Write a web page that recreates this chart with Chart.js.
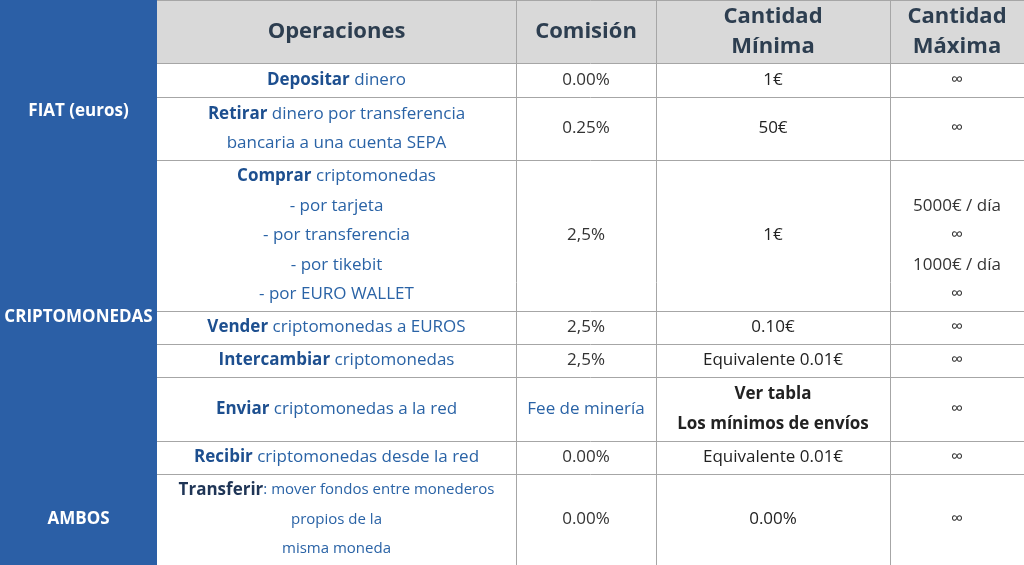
<!DOCTYPE html>
<html><head><meta charset="utf-8">
<script src="https://cdn.jsdelivr.net/npm/chart.js@4"></script>
<style>html,body{margin:0;padding:0;background:#fff}#wrap{width:1024px;height:565px}</style>
</head><body><div id="wrap"><canvas id="c"></canvas></div>
<script>
// table contents: each cell is a list of lines, each line a list of [text, bold, size]
const headers = ['Operaciones', 'Comisión', ['Cantidad', 'Mínima'], ['Cantidad', 'Máxima']];
const groups = [['FIAT (euros)', 0, 2], ['CRIPTOMONEDAS', 2, 7], ['AMBOS', 7, 8]];
const operaciones = [
  [[['Depositar', 1], [' dinero', 0]]],
  [[['Retirar', 1], [' dinero por transferencia', 0]], [['bancaria a una cuenta SEPA', 0]]],
  [[['Comprar', 1], [' criptomonedas', 0]], [['- por tarjeta', 0]], [['- por transferencia', 0]], [['- por tikebit', 0]], [['- por EURO WALLET', 0]]],
  [[['Vender', 1], [' criptomonedas a EUROS', 0]]],
  [[['Intercambiar', 1], [' criptomonedas', 0]]],
  [[['Enviar', 1], [' criptomonedas a la red', 0]]],
  [[['Recibir', 1], [' criptomonedas desde la red', 0]]],
  [[['Transferir', 1], [': mover fondos entre monederos', 0, 15]], [['propios de la', 0, 15]], [['misma moneda', 0, 15]]]
];
const comisiones = ['0.00%', '0.25%', '2,5%', '2,5%', '2,5%', 'Fee de minería', '0.00%', '0.00%'];
const minimos = ['1€', '50€', '1€', '0.10€', 'Equivalente 0.01€', ['Ver tabla', 'Los mínimos de envíos'], 'Equivalente 0.01€', '0.00%'];
const maximos = ['∞', '∞', ['', '5000€ / día', '∞', '1000€ / día', '∞'], '∞', '∞', '∞', '∞', '∞'];
const colEdges = [0, 157, 516, 656, 890, 1024];
const rowEdges = [0, 63, 97, 160, 311, 344, 377, 441, 474, 565];

const FONT = '"Open Sans", sans-serif';
const tablePlugin = {
  id: 'table',
  afterDraw(chart) {
    const ctx = chart.ctx, sx = chart.scales.x, sy = chart.scales.y;
    const X = v => sx.getPixelForValue(v), Y = v => sy.getPixelForValue(v);
    ctx.save();
    ctx.textBaseline = 'middle';
    ctx.textAlign = 'left';
    // header
    ctx.fillStyle = '#d9d9d9';
    ctx.fillRect(X(colEdges[1]), Y(0), X(1024) - X(colEdges[1]), Y(rowEdges[1]) - Y(0));
    // group column
    ctx.fillStyle = '#2b5fa6';
    ctx.fillRect(X(0), Y(0), X(colEdges[1]) - X(0), Y(565) - Y(0));
    ctx.fillStyle = '#fff';
    ctx.font = 'bold 17px ' + FONT;
    ctx.textAlign = 'center';
    groups.forEach(([t, a, b]) => {
      ctx.fillText(t, (X(colEdges[0]) + X(colEdges[1])) / 2, (Y(rowEdges[a + 1]) + Y(rowEdges[b + 1])) / 2);
    });
    // grid
    ctx.strokeStyle = '#a6a6a6';
    ctx.lineWidth = 1;
    rowEdges.forEach(r => { ctx.beginPath(); ctx.moveTo(X(157), Y(r) + 0.5); ctx.lineTo(X(1024), Y(r) + 0.5); ctx.stroke(); });
    colEdges.slice(2, 5).forEach(c => { ctx.beginPath(); ctx.moveTo(X(c) + 0.5, Y(0)); ctx.lineTo(X(c) + 0.5, Y(565)); ctx.stroke(); });
    // header texts
    ctx.fillStyle = '#2d3e50';
    ctx.font = 'bold 22px ' + FONT;
    headers.forEach((h, i) => {
      const cx = (X(colEdges[i + 1]) + X(colEdges[i + 2])) / 2;
      const lines = Array.isArray(h) ? h : [h];
      const cy = (Y(rowEdges[0]) + Y(rowEdges[1])) / 2;
      lines.forEach((l, k) => ctx.fillText(l, cx, cy + (k - (lines.length - 1) / 2) * 30));
    });
    const lh = 29.5;
    const drawLines = (lines, col, row, colorFn) => {
      const cx = (X(colEdges[col]) + X(colEdges[col + 1])) / 2;
      const cy = (Y(rowEdges[row + 1]) + Y(rowEdges[row + 2])) / 2;
      lines.forEach((segs, k) => {
        const y = cy + (k - (lines.length - 1) / 2) * lh;
        let w = 0;
        segs.forEach(s => { ctx.font = (s[1] ? 'bold ' : '') + (s[2] || 17) + 'px ' + FONT; w += ctx.measureText(s[0]).width; });
        let x = cx - w / 2;
        ctx.textAlign = 'left';
        segs.forEach(s => {
          ctx.font = (s[1] ? 'bold ' : '') + (s[2] || 17) + 'px ' + FONT;
          ctx.fillStyle = colorFn(s);
          ctx.fillText(s[0], x, y);
          x += ctx.measureText(s[0]).width;
        });
      });
    };
    operaciones.forEach((cell, r) => drawLines(cell, 1, r, s => s[1] && r === 7 ? '#1f3556' : (s[1] ? '#1d4f8f' : '#2a63a6')));
    comisiones.forEach((v, r) => drawLines([[[v, 0]]], 2, r, () => r === 5 ? '#2a63a6' : '#333'));
    minimos.forEach((v, r) => {
      const lines = Array.isArray(v) ? v.map(t => [[t, 1]]) : [[[v, 0]]];
      drawLines(lines, 3, r, () => '#222');
    });
    maximos.forEach((v, r) => {
      const lines = (Array.isArray(v) ? v : [v]).map(t => [[t, 0]]);
      drawLines(lines, 4, r, () => '#333');
    });
    ctx.restore();
  }
};

new Chart(document.getElementById('c'), {
  type: 'scatter',
  data: { datasets: [] },
  options: {
    responsive: true, maintainAspectRatio: false, animation: false,
    layout: { padding: 0 },
    plugins: { legend: { display: false }, tooltip: { enabled: false } },
    scales: {
      x: { type: 'linear', min: 0, max: 1024, display: false },
      y: { type: 'linear', min: 0, max: 565, reverse: true, display: false }
    }
  },
  plugins: [tablePlugin]
});
</script></body></html>
